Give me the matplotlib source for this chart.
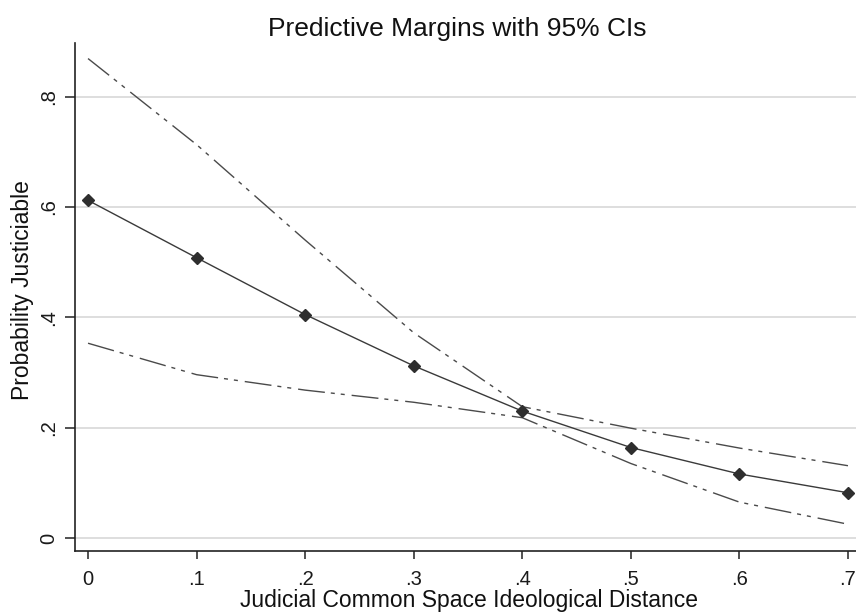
import matplotlib
matplotlib.use("Agg")
import matplotlib.pyplot as plt

plt.rcParams['font.family'] = ['Liberation Sans', 'DejaVu Sans']

# ---- data ----
distance = [0.0, 0.1, 0.2, 0.3, 0.4, 0.5, 0.6, 0.7]
margin = [0.612, 0.508, 0.405, 0.312, 0.230, 0.164, 0.116, 0.082]
ci_upper = [0.869, 0.713, 0.540, 0.372, 0.238, 0.199, 0.163, 0.131]
ci_lower = [0.353, 0.296, 0.268, 0.246, 0.218, 0.135, 0.065, 0.025]
x_ticks = [0.0, 0.1, 0.2, 0.3, 0.4, 0.5, 0.6, 0.7]
x_tick_labels = ["0", ".1", ".2", ".3", ".4", ".5", ".6", ".7"]
y_ticks = [0.0, 0.2, 0.4, 0.6, 0.8]
y_tick_labels = ["0", ".2", ".4", ".6", ".8"]
title = "Predictive Margins with 95% CIs"
x_label = "Judicial Common Space Ideological Distance"
y_label = "Probability Justiciable"

W, H = 856, 612
fig = plt.figure(figsize=(W / 100, H / 100), dpi=100)
fig.patch.set_facecolor("white")

left, right, top, bottom = 75, 856, 43, 551
ax = fig.add_axes([left / W, (H - bottom) / H, (right - left) / W, (bottom - top) / H])
ax.set_facecolor("white")
ax.set_xlim(-0.012, 0.7074)
ax.set_ylim(-0.0236, 0.8972)

for s in ("top", "right"):
    ax.spines[s].set_visible(False)
for s in ("left", "bottom"):
    ax.spines[s].set_linewidth(1.2)
    ax.spines[s].set_color("#222222")

ax.set_yticks(y_ticks)
ax.set_yticklabels(y_tick_labels, rotation=90, va="center")
ax.set_xticks(x_ticks)
ax.set_xticklabels(x_tick_labels)
ax.tick_params(axis="x", length=5.5, width=1.1, color="#222222", labelsize=14.5, pad=8.3, labelcolor="#1a1a1a")
ax.tick_params(axis="y", length=7, width=1.1, color="#222222", labelsize=14.5, pad=5, labelcolor="#1a1a1a")

ax.yaxis.grid(True, color="#d4d4d4", lw=1.1)
ax.set_axisbelow(True)

dash = (19.4, 4.3, 2.9, 4.3, 2.9, 5.0)
ax.plot(distance, ci_upper, color="#4a4a4a", lw=1.0, dashes=dash, zorder=2)
ax.plot(distance, ci_lower, color="#4a4a4a", lw=1.0, dashes=dash, zorder=2)
ax.plot(distance, margin, color="#3a3a3a", lw=1.0, marker="D", ms=6,
        mfc="#2e2e2e", mec="#2e2e2e", zorder=3, clip_on=False)

fig.text(457 / W, 1 - 36 / H, title, ha="center", va="baseline", fontsize=19, color="#111111")
fig.text(469 / W, 1 - 607 / H, x_label, ha="center", va="baseline", fontsize=16.5, color="#111111")
fig.text(23 / W, 1 - 290 / H, y_label, ha="center", va="center", rotation=90, fontsize=16.5, color="#111111")

fig.savefig("out.png", dpi=100, facecolor="white")
